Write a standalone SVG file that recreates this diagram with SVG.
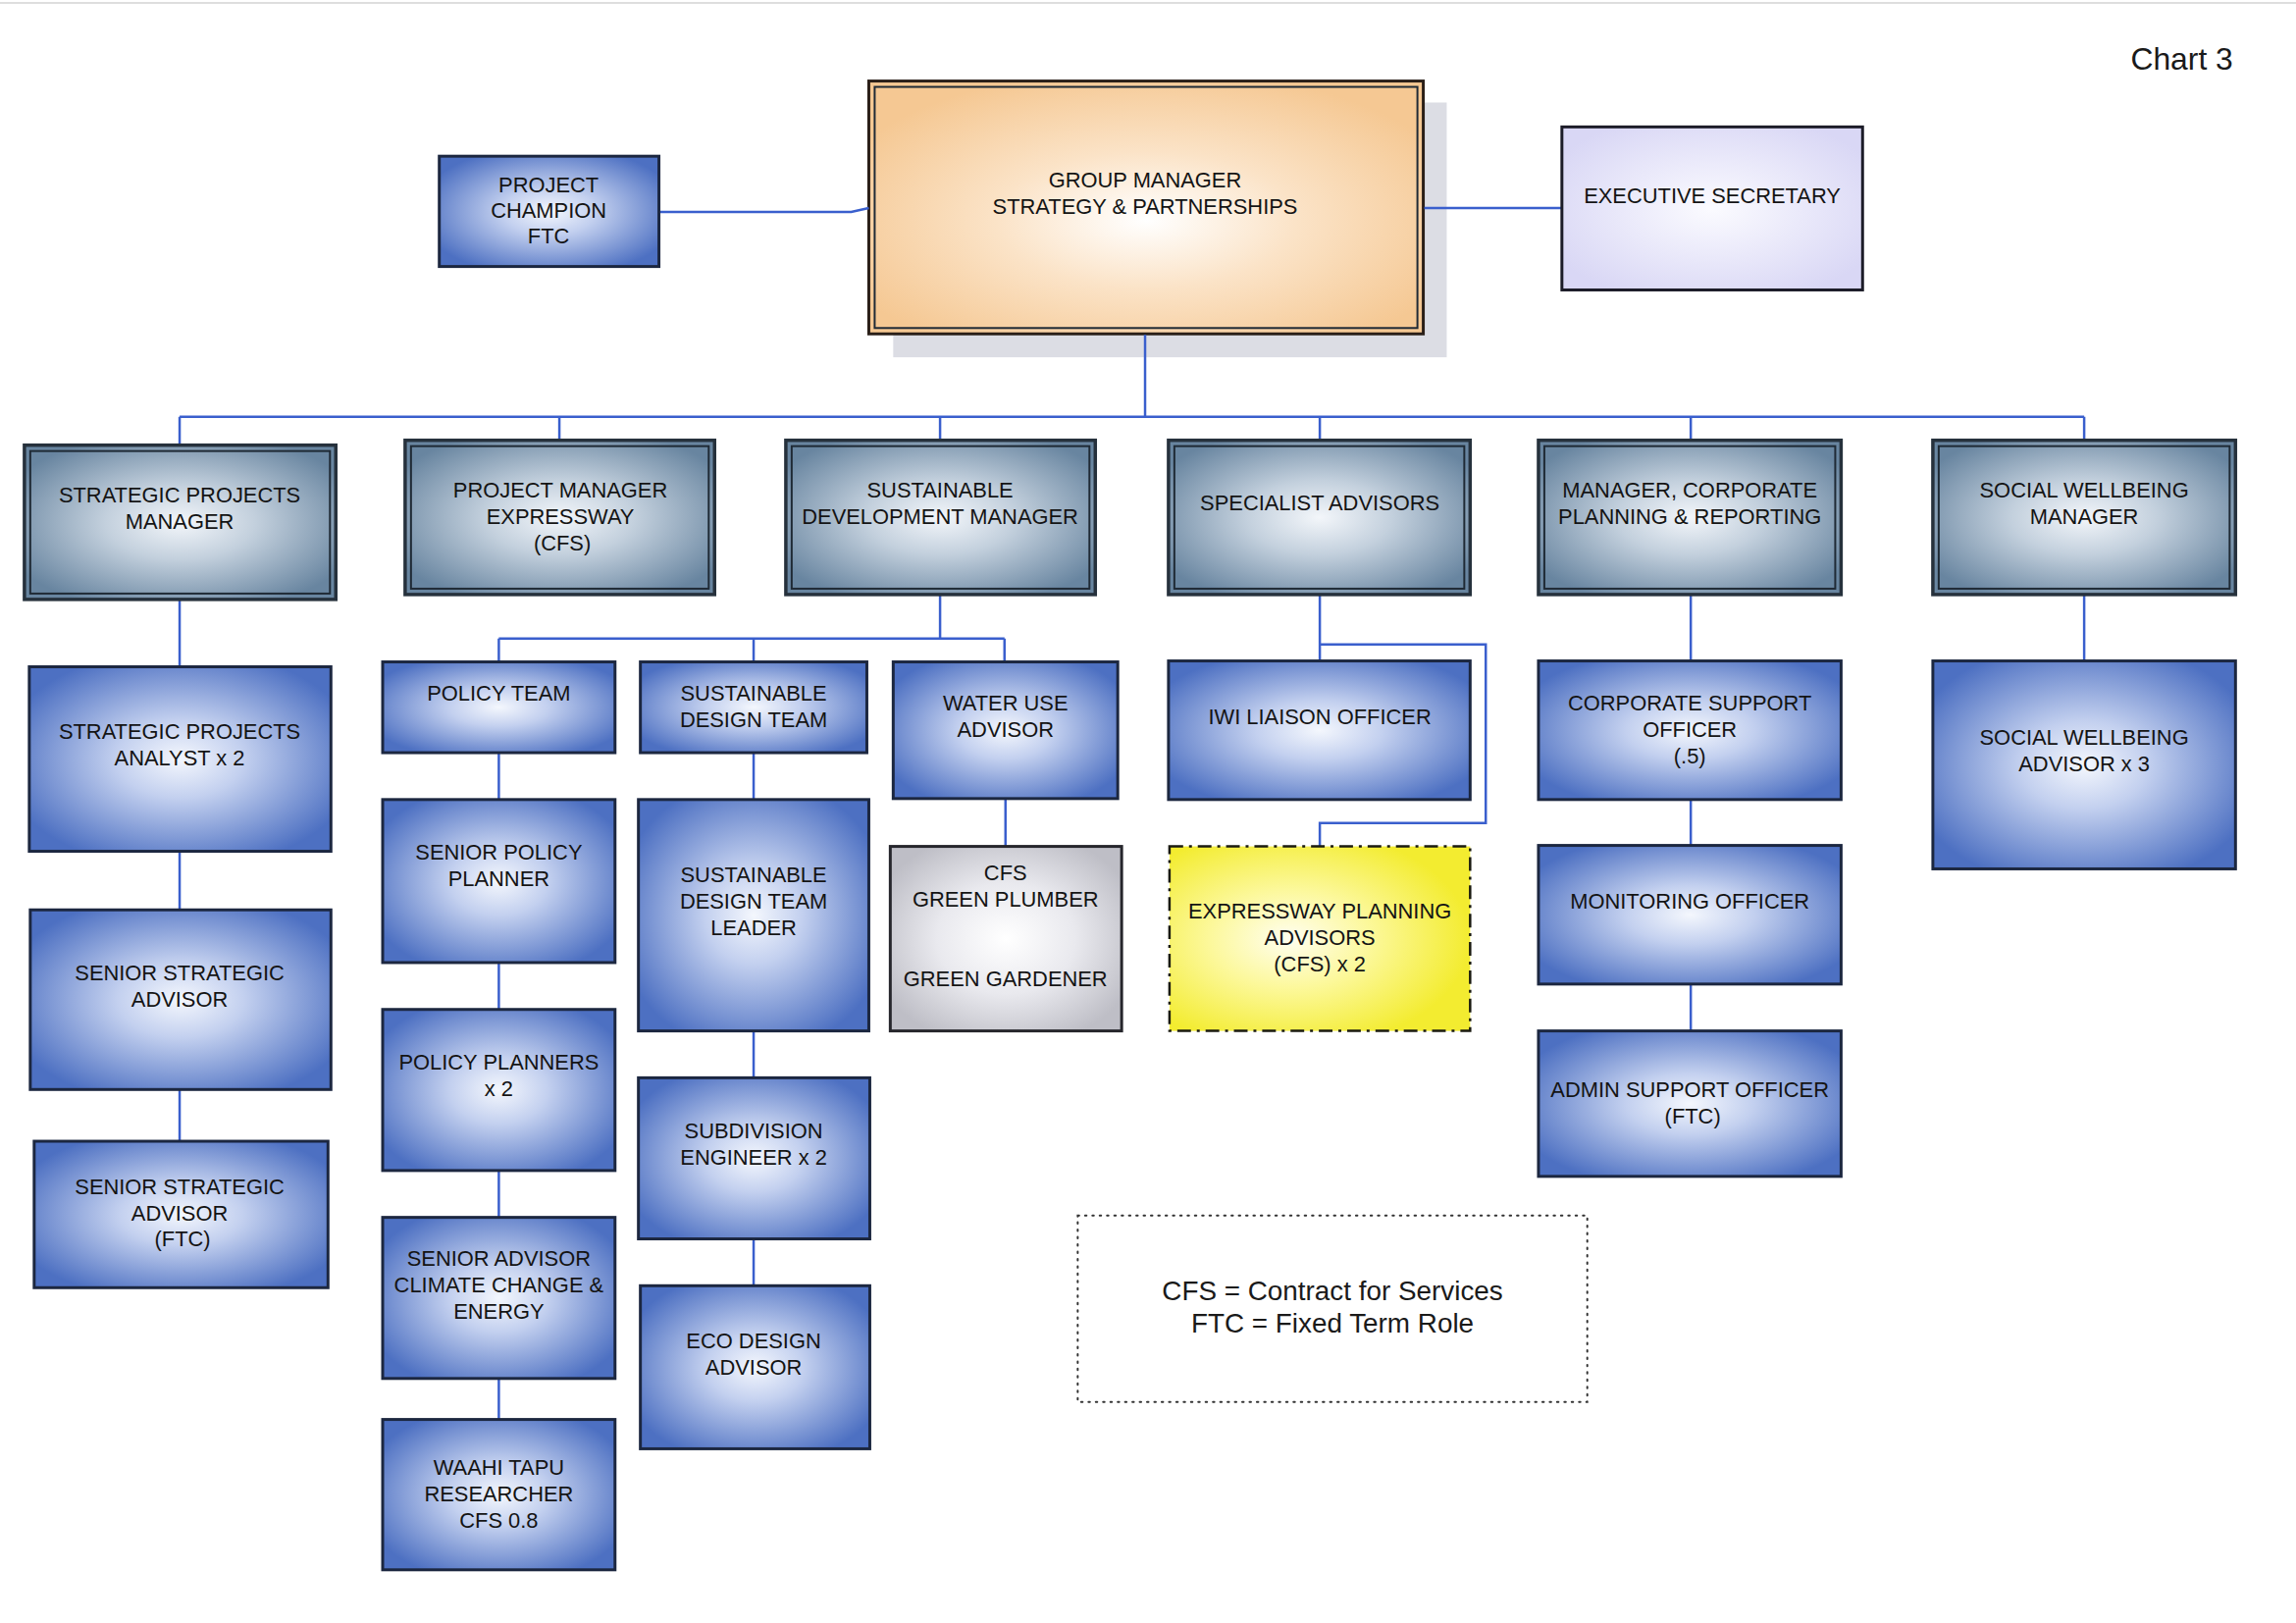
<svg xmlns="http://www.w3.org/2000/svg" width="2340" height="1654" viewBox="0 0 2340 1654">
<defs>
<radialGradient id="gBlue" cx="50%" cy="50%" r="60%">
<stop offset="0" stop-color="#f4f7fd"/>
<stop offset="0.35" stop-color="#c3d0ef"/>
<stop offset="1" stop-color="#4d70c2"/>
</radialGradient>
<radialGradient id="gSteel" cx="50%" cy="50%" r="60%">
<stop offset="0" stop-color="#f3f6fa"/>
<stop offset="0.4" stop-color="#c3d0dd"/>
<stop offset="1" stop-color="#6885a0"/>
</radialGradient>
<radialGradient id="gPeach" cx="50%" cy="55%" r="60%">
<stop offset="0" stop-color="#ffffff"/>
<stop offset="0.45" stop-color="#fbe3c7"/>
<stop offset="1" stop-color="#f5c893"/>
</radialGradient>
<radialGradient id="gLav" cx="50%" cy="50%" r="60%">
<stop offset="0" stop-color="#fbfbff"/>
<stop offset="1" stop-color="#d9d7f5"/>
</radialGradient>
<radialGradient id="gGrey" cx="50%" cy="50%" r="60%">
<stop offset="0" stop-color="#ffffff"/>
<stop offset="0.5" stop-color="#e9e9ee"/>
<stop offset="1" stop-color="#bebec6"/>
</radialGradient>
<radialGradient id="gYellow" cx="40%" cy="50%" r="60%">
<stop offset="0" stop-color="#fffef0"/>
<stop offset="0.45" stop-color="#fcf89a"/>
<stop offset="1" stop-color="#f3ec30"/>
</radialGradient>
</defs>
<style>
.t{font-family:"Liberation Sans",Arial,sans-serif;font-size:22px;fill:#141414;text-anchor:middle}
.blue{fill:url(#gBlue);stroke:#1c2740;stroke-width:3}
.steel{fill:url(#gSteel);stroke:#26313c;stroke-width:3.5}
.inner{fill:none;stroke:#1f2a35;stroke-width:2}
.conn{fill:none;stroke:#3a5fcd;stroke-width:2.5}
.lg{font-family:"Liberation Sans",Arial,sans-serif;font-size:28px;fill:#1a1a1a;text-anchor:middle}
</style>
<rect x="0" y="0" width="2340" height="1654" fill="#ffffff"/>
<line x1="0" y1="3" x2="2340" y2="3" stroke="#dedede" stroke-width="2"/>
<g transform="scale(0.9949)">
<text x="2235" y="71" style="font-family:'Liberation Sans',Arial,sans-serif;font-size:32px;fill:#1a1a1a;text-anchor:middle">Chart 3</text>

<g id="group-manager">
<rect x="915" y="105" width="567" height="261" fill="#dcdde4"/>
<rect x="890" y="83" width="568" height="259" fill="url(#gPeach)" stroke="#2a1f18" stroke-width="3"/>
<rect x="896" y="89" width="556" height="247" class="inner" stroke="#3a2a1e"/>
<text class="t" x="1173" y="192">GROUP MANAGER</text>
<text class="t" x="1173" y="219">STRATEGY &amp; PARTNERSHIPS</text>
</g>

<g id="connectors">
<path class="conn" d="M675 217 H872 L890 213"/>
<path class="conn" d="M1459 213 H1600"/>
<path class="conn" d="M1173 343 V427"/>
<path class="conn" d="M184 427 H2135"/>
<path class="conn" d="M184 427 V456 M573 427 V451 M963 427 V451 M1352 427 V451 M1732 427 V451 M2135 427 V451"/>
<path class="conn" d="M184 614 V683 M184 872 V932 M184 1116 V1169"/>
<path class="conn" d="M963 609 V654 M511 654 H1029 M511 654 V678 M772 654 V678 M1029 654 V678"/>
<path class="conn" d="M511 771 V819 M511 986 V1034 M511 1199 V1247 M511 1412 V1454"/>
<path class="conn" d="M772 771 V819 M772 1056 V1104 M772 1269 V1317"/>
<path class="conn" d="M1030 818 V867"/>
<path class="conn" d="M1352 609 V677 M1352 660 H1522 V843 H1352 V867"/>
<path class="conn" d="M1732 609 V677 M1732 819 V866 M1732 1008 V1056"/>
<path class="conn" d="M2135 609 V677"/>
</g>

<g id="project-champion">
<rect x="450" y="160" width="225" height="113" class="blue"/>
<text class="t" x="562" y="197">PROJECT</text>
<text class="t" x="562" y="223">CHAMPION</text>
<text class="t" x="562" y="249">FTC</text>
</g>

<g id="executive-secretary">
<rect x="1600" y="130" width="308" height="167" fill="url(#gLav)" stroke="#1c1c28" stroke-width="3"/>
<text class="t" x="1754" y="208">EXECUTIVE SECRETARY</text>
</g>

<g id="strategic-projects-manager">
<rect x="25" y="456" width="319" height="158" class="steel"/>
<rect x="31" y="462" width="307" height="146" class="inner"/>
<text class="t" x="184" y="515">STRATEGIC PROJECTS</text>
<text class="t" x="184" y="542">MANAGER</text>
</g>

<g id="project-manager-expressway">
<rect x="415" y="451" width="317" height="158" class="steel"/>
<rect x="421" y="457" width="305" height="146" class="inner"/>
<text class="t" x="574" y="510">PROJECT MANAGER</text>
<text class="t" x="574" y="537">EXPRESSWAY</text>
<text class="t" x="576" y="564">(CFS)</text>
</g>

<g id="sustainable-development-manager">
<rect x="805" y="451" width="317" height="158" class="steel"/>
<rect x="811" y="457" width="305" height="146" class="inner"/>
<text class="t" x="963" y="510">SUSTAINABLE</text>
<text class="t" x="963" y="537">DEVELOPMENT MANAGER</text>
</g>

<g id="specialist-advisors">
<rect x="1197" y="451" width="309" height="158" class="steel"/>
<rect x="1203" y="457" width="297" height="146" class="inner"/>
<text class="t" x="1352" y="523">SPECIALIST ADVISORS</text>
</g>

<g id="manager-corporate-planning">
<rect x="1576" y="451" width="310" height="158" class="steel"/>
<rect x="1582" y="457" width="298" height="146" class="inner"/>
<text class="t" x="1731" y="510">MANAGER, CORPORATE</text>
<text class="t" x="1731" y="537">PLANNING &amp; REPORTING</text>
</g>

<g id="social-wellbeing-manager">
<rect x="1980" y="451" width="310" height="158" class="steel"/>
<rect x="1986" y="457" width="298" height="146" class="inner"/>
<text class="t" x="2135" y="510">SOCIAL WELLBEING</text>
<text class="t" x="2135" y="537">MANAGER</text>
</g>

<g id="strategic-projects-analyst">
<rect x="30" y="683" width="309" height="189" class="blue"/>
<text class="t" x="184" y="757">STRATEGIC PROJECTS</text>
<text class="t" x="184" y="784">ANALYST x 2</text>
</g>

<g id="senior-strategic-advisor">
<rect x="31" y="932" width="308" height="184" class="blue"/>
<text class="t" x="184" y="1004">SENIOR STRATEGIC</text>
<text class="t" x="184" y="1031">ADVISOR</text>
</g>

<g id="senior-strategic-advisor-ftc">
<rect x="35" y="1169" width="301" height="150" class="blue"/>
<text class="t" x="184" y="1223">SENIOR STRATEGIC</text>
<text class="t" x="184" y="1250">ADVISOR</text>
<text class="t" x="187" y="1277">(FTC)</text>
</g>

<g id="policy-team">
<rect x="392" y="678" width="238" height="93" class="blue"/>
<text class="t" x="511" y="718">POLICY TEAM</text>
</g>

<g id="sustainable-design-team">
<rect x="656" y="678" width="232" height="93" class="blue"/>
<text class="t" x="772" y="718">SUSTAINABLE</text>
<text class="t" x="772" y="745">DESIGN TEAM</text>
</g>

<g id="water-use-advisor">
<rect x="915" y="678" width="230" height="140" class="blue"/>
<text class="t" x="1030" y="728">WATER USE</text>
<text class="t" x="1030" y="755">ADVISOR</text>
</g>

<g id="senior-policy-planner">
<rect x="392" y="819" width="238" height="167" class="blue"/>
<text class="t" x="511" y="881">SENIOR POLICY</text>
<text class="t" x="511" y="908">PLANNER</text>
</g>

<g id="policy-planners">
<rect x="392" y="1034" width="238" height="165" class="blue"/>
<text class="t" x="511" y="1096">POLICY PLANNERS</text>
<text class="t" x="511" y="1123">x 2</text>
</g>

<g id="senior-advisor-climate">
<rect x="392" y="1247" width="238" height="165" class="blue"/>
<text class="t" x="511" y="1297">SENIOR ADVISOR</text>
<text class="t" x="511" y="1324">CLIMATE CHANGE &amp;</text>
<text class="t" x="511" y="1351">ENERGY</text>
</g>

<g id="waahi-tapu-researcher">
<rect x="392" y="1454" width="238" height="154" class="blue"/>
<text class="t" x="511" y="1511">WAAHI TAPU</text>
<text class="t" x="511" y="1538">RESEARCHER</text>
<text class="t" x="511" y="1565">CFS 0.8</text>
</g>

<g id="sustainable-design-team-leader">
<rect x="654" y="819" width="236" height="237" class="blue"/>
<text class="t" x="772" y="904">SUSTAINABLE</text>
<text class="t" x="772" y="931">DESIGN TEAM</text>
<text class="t" x="772" y="958">LEADER</text>
</g>

<g id="subdivision-engineer">
<rect x="654" y="1104" width="237" height="165" class="blue"/>
<text class="t" x="772" y="1166">SUBDIVISION</text>
<text class="t" x="772" y="1193">ENGINEER x 2</text>
</g>

<g id="eco-design-advisor">
<rect x="656" y="1317" width="235" height="167" class="blue"/>
<text class="t" x="772" y="1381">ECO DESIGN</text>
<text class="t" x="772" y="1408">ADVISOR</text>
</g>

<g id="cfs-green-plumber-gardener">
<rect x="912" y="867" width="237" height="189" fill="url(#gGrey)" stroke="#26262c" stroke-width="3"/>
<text class="t" x="1030" y="902">CFS</text>
<text class="t" x="1030" y="929">GREEN PLUMBER</text>
<text class="t" x="1030" y="1010">GREEN GARDENER</text>
</g>

<g id="iwi-liaison-officer">
<rect x="1197" y="677" width="309" height="142" class="blue"/>
<text class="t" x="1352" y="742">IWI LIAISON OFFICER</text>
</g>

<g id="expressway-planning-advisors">
<rect x="1198" y="867" width="308" height="189" fill="url(#gYellow)" stroke="#1a1a10" stroke-width="2.5" stroke-dasharray="14 6 3 6"/>
<text class="t" x="1352" y="941">EXPRESSWAY PLANNING</text>
<text class="t" x="1352" y="968">ADVISORS</text>
<text class="t" x="1352" y="995">(CFS) x 2</text>
</g>

<g id="corporate-support-officer">
<rect x="1576" y="677" width="310" height="142" class="blue"/>
<text class="t" x="1731" y="728">CORPORATE SUPPORT</text>
<text class="t" x="1731" y="755">OFFICER</text>
<text class="t" x="1731" y="782">(.5)</text>
</g>

<g id="monitoring-officer">
<rect x="1576" y="866" width="310" height="142" class="blue"/>
<text class="t" x="1731" y="931">MONITORING OFFICER</text>
</g>

<g id="admin-support-officer">
<rect x="1576" y="1056" width="310" height="149" class="blue"/>
<text class="t" x="1731" y="1124">ADMIN SUPPORT OFFICER</text>
<text class="t" x="1734" y="1151">(FTC)</text>
</g>

<g id="social-wellbeing-advisor">
<rect x="1980" y="677" width="310" height="213" class="blue"/>
<text class="t" x="2135" y="763">SOCIAL WELLBEING</text>
<text class="t" x="2135" y="790">ADVISOR x 3</text>
</g>

<g id="legend">
<rect x="1104" y="1245" width="522" height="191" fill="none" stroke="#333" stroke-width="2" stroke-dasharray="1.5 6" stroke-linecap="round"/>
<text class="lg" x="1365" y="1332">CFS = Contract for Services</text>
<text class="lg" x="1365" y="1365">FTC = Fixed Term Role</text>
</g>
</g>
</svg>
